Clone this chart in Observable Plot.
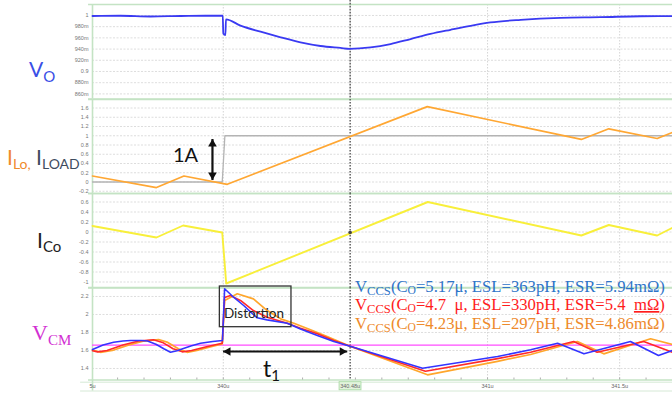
<!DOCTYPE html>
<html><head><meta charset="utf-8">
<script src="https://cdn.jsdelivr.net/npm/d3@7"></script>
<script src="https://cdn.jsdelivr.net/npm/@observablehq/plot@0.6"></script>
<style>
body{margin:0;background:#fff;}
#chart{position:relative;width:672px;height:397px;background:#fff;overflow:hidden;}
.pane{position:absolute;left:0;}
#overlay{position:absolute;left:0;top:0;pointer-events:none;}
</style></head>
<body>
<div id="chart"></div>
<script>
// ---------- data (time in µs) ----------
const xDomain = [339.505, 341.70];
const cursorT = 340.48;

// Vo (V)
const voT = [339.505,339.611,339.725,339.838,339.933,339.998,340.0,340.008,340.010,340.065,340.141,340.217,340.292,340.368,340.444,340.478,340.557,340.633,340.709,340.784,340.860,340.936,341.011,341.125,341.276,341.428,341.579,341.70];
const voV = [0.9991,0.9995,0.9982,0.9991,0.9995,0.9995,0.968,0.965,0.993,0.982,0.971,0.961,0.952,0.9455,0.942,0.9405,0.943,0.949,0.958,0.967,0.9745,0.9816,0.9875,0.9923,0.9959,0.997,0.9986,0.9989];
const voTicks = [1,0.98,0.96,0.94,0.92,0.9,0.88,0.86];
const voLabels = ["1","980m","960m","940m","920m","0.9","880m","860m"];

// ILo and ILOAD (A)
const iloT = [339.505,339.747,339.851,340.015,340.772,341.355,341.459,341.642,341.70];
const iloV = [0.13,-0.12,0.13,-0.05,1.63,0.92,1.15,0.94,1.07];
const iloadT = [339.505,339.996,340.006,341.70];
const iloadV = [0,0,1,1];
const iTicks = [1.6,1.4,1.2,1,0.8,0.6,0.4,0.2,0,-0.2];
const iLabels = ["1.6","1.4","1.2","1","0.8","0.6","0.4","0.2","0","-0.2"];

// ICo (A)
const icoT = [339.505,339.747,339.848,339.996,340.011,340.774,341.355,341.459,341.642,341.70];
const icoV = [0.12,-0.11,0.13,-0.01,-1.03,0.60,-0.07,0.14,-0.07,0.085];
const icoTicks = [0.6,0.4,0.2,0,-0.2,-0.4,-0.6,-0.8,-1];
const icoLabels = ["0.6","0.4","0.2","0","-0.2","-0.4","-0.6","-0.8","-1"];

// VCM (V), three capacitor cases
const vcmBlueT = [339.505,339.545,339.585,339.62,339.649,339.69,339.713,339.745,339.775,339.800,339.825,339.849,339.88,339.914,339.96,339.997,340.005,340.039,340.077,340.128,340.166,340.242,340.292,340.356,340.418,340.48,340.754,341.038,341.163,341.265,341.365,341.541,341.647,341.70];
const vcmBlueV = [1.611,1.662,1.692,1.706,1.711,1.711,1.706,1.67,1.62,1.581,1.598,1.622,1.652,1.681,1.70,1.711,2.286,2.192,2.10,1.963,1.94,1.903,1.84,1.767,1.70,1.648,1.403,1.533,1.608,1.681,1.563,1.70,1.544,1.60];
const vcmRedT = [339.505,339.524,339.56,339.62,339.68,339.736,339.77,339.81,339.845,339.88,339.94,339.996,340.005,340.027,340.065,340.114,340.166,340.242,340.292,340.356,340.418,340.48,340.765,341.038,341.163,341.326,341.415,341.591,341.70];
const vcmRedV = [1.598,1.585,1.60,1.66,1.705,1.72,1.69,1.62,1.585,1.60,1.645,1.68,2.19,2.21,2.156,2.044,1.97,1.903,1.848,1.785,1.711,1.648,1.37,1.51,1.58,1.70,1.581,1.70,1.58];
const vcmOrangeT = [339.505,339.535,339.58,339.64,339.70,339.755,339.79,339.83,339.863,339.90,339.95,339.996,340.005,340.053,340.114,340.166,340.217,340.267,340.330,340.393,340.444,340.48,340.773,341.038,341.163,341.340,341.440,341.617,341.70];
const vcmOrangeV = [1.605,1.58,1.60,1.66,1.705,1.722,1.69,1.62,1.58,1.60,1.64,1.674,2.156,2.23,2.174,2.044,1.952,1.903,1.83,1.756,1.692,1.648,1.33,1.48,1.556,1.70,1.563,1.73,1.667];
const vcmRef = 1.66;
const vcmTicks = [2.2,2,1.8,1.6,1.4];
const vcmLabels = ["2.2","2","1.8","1.6","1.4"];

// x axis
const xTicks = [339.505,340,340.48,341,341.5];
const xLabels = ["5u","340u","340.48u","341u","341.5u"];
const minorTicks = [339.6,339.7,339.8,339.9,340.0,340.1,340.2,340.3,340.4,340.5,340.6,340.7,340.8,340.9,341.0,341.1,341.2,341.3,341.4,341.5,341.6,341.7];
const vGrid = [340, 341, 341.5];

// annotations (data units)
const arrow1A = {t: 339.959, v1: 0.043, v2: 0.93};
const arrowT1 = {v: 1.589, t1: 339.999, t2: 340.469};
const distortionBox = {t1: 339.987, t2: 340.258, v1: 1.859, v2: 2.311};

// ---------- helpers ----------
const GREEN = "#c4e3c4";
const rows = (T, V) => T.map((t, i) => ({t, v: V[i]}));
const chart = document.getElementById("chart");

function panel(top, bottom, domain, ticks, labels, marks) {
  const H = bottom - top + 4;
  const svg = Plot.plot({
    width: 672, height: H,
    marginLeft: 92, marginRight: 0, marginTop: 2, marginBottom: 2,
    x: {domain: xDomain, axis: null},
    y: {domain, ticks, tickFormat: d => labels[ticks.indexOf(d)], tickSize: 0, tickPadding: 4, label: null},
    style: {background: "transparent", overflow: "visible", fontSize: "5.5px", color: "#777", fontFamily: "Liberation Sans"},
    marks: [
      Plot.ruleY(ticks, {stroke: "#d4d4d4", strokeDasharray: "2,1.5", strokeWidth: 0.8}),
      Plot.ruleX(vGrid, {stroke: "#d0d0d0", strokeDasharray: "1.5,1.5", strokeWidth: 0.9}),
      Plot.ruleY([domain[0], domain[1]], {x1: 339.49, x2: xDomain[1], stroke: GREEN, strokeWidth: 1.6}),
      Plot.ruleX([xDomain[0]], {stroke: GREEN, strokeWidth: 1.6}),
      ...marks
    ]
  });
  const div = document.createElement("div");
  div.className = "pane";
  div.style.top = (top - 2) + "px";
  div.appendChild(svg);
  chart.appendChild(div);
}

const cursorRule = (y1, y2) => Plot.ruleX([cursorT], {y1, y2, stroke: "#3a3a3a", strokeWidth: 1.2, strokeDasharray: "1.6,1.4"});
const headR = 3.2, headOff = 4.97;

// P1: Vo
panel(4, 98.5, [0.8509, 1.0196], voTicks, voLabels, [
  cursorRule(1.027, 0.8509),
  Plot.line(rows(voT, voV), {x: "t", y: "v", stroke: "#3a3af2", strokeWidth: 1.8, curve: "monotone-x"})
]);

// P2: ILo, ILOAD
panel(98.5, 192.5, [-0.2486, 1.7838], iTicks, iLabels, [
  cursorRule(1.7838, -0.2486),
  Plot.line(rows(iloadT, iloadV), {x: "t", y: "v", stroke: "#b4b4b4", strokeWidth: 1.3}),
  Plot.line(rows(iloT, iloV), {x: "t", y: "v", stroke: "#ffa733", strokeWidth: 1.7}),
  Plot.link([arrow1A], {x1: "t", x2: "t", y1: "v1", y2: "v2", stroke: "#111", strokeWidth: 2.2}),
  Plot.dot([arrow1A], {x: "t", y: "v2", symbol: "triangle", r: headR, fill: "#111", stroke: "none", dy: headOff}),
  Plot.dot([arrow1A], {x: "t", y: "v1", symbol: "triangle", r: headR, fill: "#111", stroke: "none", rotate: 180, dy: -headOff})
]);

// P3: ICo
panel(192.5, 287, [-1.12, 0.77], icoTicks, icoLabels, [
  cursorRule(0.77, -1.12),
  Plot.line(rows(icoT, icoV), {x: "t", y: "v", stroke: "#f8ef3a", strokeWidth: 1.9}),
  Plot.dot([{t: cursorT, v: -0.01}], {x: "t", y: "v", r: 1.8, fill: "#444", stroke: "none"})
]);

// P4: VCM
panel(287, 379.5, [1.2722, 2.3], vcmTicks, vcmLabels, [
  cursorRule(2.3, 1.2722),
  Plot.ruleX(minorTicks, {y1: 1.2722, y2: 1.2944, stroke: "#9a9a9a", strokeWidth: 0.8}),
  Plot.ruleY([vcmRef], {x1: xDomain[0], x2: xDomain[1], stroke: "#ff4cff", strokeWidth: 1.4}),
  Plot.line(rows(vcmOrangeT, vcmOrangeV), {x: "t", y: "v", stroke: "#ffa62b", strokeWidth: 1.7}),
  Plot.line(rows(vcmRedT, vcmRedV), {x: "t", y: "v", stroke: "#ff2a2a", strokeWidth: 1.6}),
  Plot.line(rows(vcmBlueT, vcmBlueV), {x: "t", y: "v", stroke: "#3434ff", strokeWidth: 1.6}),
  Plot.rect([distortionBox], {x1: "t1", x2: "t2", y1: "v1", y2: "v2", fill: "none", stroke: "#333", strokeWidth: 1.3}),
  Plot.link([arrowT1], {x1: "t1", x2: "t2", y1: "v", y2: "v", stroke: "#111", strokeWidth: 2.2}),
  Plot.dot([arrowT1], {x: "t1", y: "v", symbol: "triangle", r: headR, fill: "#111", stroke: "none", rotate: -90, dx: headOff}),
  Plot.dot([arrowT1], {x: "t2", y: "v", symbol: "triangle", r: headR, fill: "#111", stroke: "none", rotate: 90, dx: -headOff})
]);

// P5: x axis band
{
  const labelRows = xTicks.map((t, i) => ({t, label: xLabels[i]}));
  const svg = Plot.plot({
    width: 672, height: 18, marginLeft: 92, marginRight: 0, marginTop: 0, marginBottom: 0,
    x: {domain: xDomain, axis: null},
    y: {domain: [0, 1], axis: null},
    style: {background: "transparent", overflow: "visible", fontFamily: "Liberation Sans"},
    marks: [
      Plot.ruleY([0.85, 0.36], {x1: 339.46, x2: xDomain[1], stroke: "#d6e9d6", strokeWidth: 1}),
      Plot.ruleX([xDomain[0]], {y1: 1, y2: 0.36, stroke: GREEN, strokeWidth: 1.6}),
      Plot.rect([{t1: 340.44, t2: 340.523}], {x1: "t1", x2: "t2", y1: 0.4, y2: 0.85, fill: "#e2f3dc", stroke: "#a6d9a0", strokeWidth: 0.8}),
      Plot.text(labelRows, {x: "t", y: 0.6, text: "label", fontSize: 5.5, fill: "#666", dx: 0})
    ]
  });
  const div = document.createElement("div");
  div.className = "pane";
  div.style.top = "379px";
  div.appendChild(svg);
  chart.appendChild(div);
}

// text overlay
const overlay = `
<svg id="overlay" width="672" height="397" xmlns="http://www.w3.org/2000/svg">
  <text x="29" y="77" font-family="Lato" font-size="21" fill="#3a4fe6">V<tspan font-size="15" dy="5">O</tspan></text>
  <text x="7" y="165" font-family="Lato" font-size="21"><tspan fill="#f08a2c">I</tspan><tspan fill="#f08a2c" font-size="14" dy="4">Lo,</tspan><tspan fill="#3e4b5e" dy="-4"> I</tspan><tspan fill="#3e4b5e" font-size="14" dy="4">LOAD</tspan></text>
  <text x="37" y="248" font-family="Lato" font-size="21" fill="#1e1e1e">I<tspan font-size="15" dy="4">Co</tspan></text>
  <text x="32" y="340" font-family="Liberation Serif" font-size="22" fill="#d22fd2">V<tspan font-size="15" dy="5">CM</tspan></text>
  <text x="173" y="162" font-family="Lato" font-size="20" fill="#111">1A</text>
  <text x="254" y="318" font-family="Lato" font-size="13.5" fill="#222" text-anchor="middle">Distortion</text>
  <text x="263" y="377" font-family="Lato" font-size="23" fill="#111">t<tspan font-size="15" dy="4">1</tspan></text>
  <text x="355" y="291.5" font-family="Liberation Serif" font-size="16.7" fill="#2e74c8">V<tspan font-size="12.6" dy="3">CCS</tspan><tspan dy="-3">(C</tspan><tspan font-size="11.6" dy="2">O</tspan><tspan dy="-2">=5.17μ, ESL=363pH, ESR=5.94mΩ)</tspan></text>
  <text x="355" y="310" font-family="Liberation Serif" font-size="16.7" fill="#ff1c1c">V<tspan font-size="12.6" dy="3">CCS</tspan><tspan dy="-3">(C</tspan><tspan font-size="11.6" dy="2">O</tspan><tspan dy="-2">=4.7&#160;&#160;μ, ESL=330pH, ESR=5.4&#160;&#160;</tspan><tspan text-decoration="underline">mΩ</tspan><tspan>)</tspan></text>
  <text x="355" y="328.5" font-family="Liberation Serif" font-size="16.7" fill="#ee8a2c">V<tspan font-size="12.6" dy="3">CCS</tspan><tspan dy="-3">(C</tspan><tspan font-size="11.6" dy="2">O</tspan><tspan dy="-2">=4.23μ, ESL=297pH, ESR=4.86mΩ)</tspan></text>
</svg>`;
chart.insertAdjacentHTML("beforeend", overlay);
</script>
</body></html>
